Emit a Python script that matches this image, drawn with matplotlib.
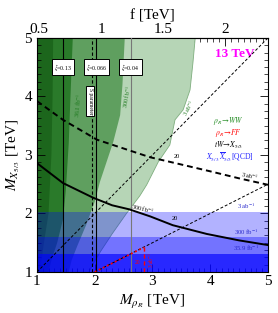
import numpy as np
import matplotlib
matplotlib.use('Agg')
import matplotlib.pyplot as plt
from matplotlib.ticker import MultipleLocator, AutoMinorLocator

plt.rcParams['font.family'] = ['Liberation Serif', 'DejaVu Serif']
plt.rcParams['mathtext.fontset'] = 'stix'

# rho_R -> WW exclusion contours (right edge, M_rho vs M_X)
g3_x = [3.74, 3.70, 3.65, 3.53, 3.39, 3.30, 3.10, 2.90, 2.78, 2.55, 2.30, 2.10, 1.95, 1.90]
g3_y = [5.00, 4.57, 4.11, 3.77, 3.60, 3.17, 2.88, 2.49, 2.30, 2.00, 1.65, 1.35, 1.10, 1.00]
g2_x = [2.52, 2.48, 2.44, 2.32, 2.09, 2.00, 1.85, 1.70, 1.60, 1.55]
g2_y = [5.00, 4.20, 3.68, 3.22, 2.54, 2.20, 1.80, 1.45, 1.20, 1.00]
g1_x = [1.62, 1.58, 1.55, 1.50, 1.45, 1.35, 1.25, 1.20]
g1_y = [5.00, 4.00, 3.20, 2.40, 1.90, 1.50, 1.20, 1.00]
g0_x = [1.28, 1.27, 1.25, 1.20, 1.12, 1.05]
g0_y = [5.00, 4.00, 3.00, 2.00, 1.50, 1.00]

# tW -> X5/3 reach, 300 fb-1 and 3 ab-1
tw300_x = [1.0, 1.45, 1.97, 2.30, 2.60, 2.96, 3.35, 3.94, 4.50, 5.0]
tw300_y = [2.86, 2.52, 2.27, 2.14, 2.07, 1.95, 1.80, 1.65, 1.54, 1.46]
tw3000_x = [1.0, 1.45, 2.04, 2.96, 3.44, 4.00, 4.50, 5.0]
tw3000_y = [3.92, 3.60, 3.26, 2.96, 2.85, 2.72, 2.60, 2.49]

# rho_R -> FF
ff_x = [2.0, 2.85, 2.85]
ff_y = [1.0, 1.42, 1.0]

# QCD pair production limits on M_X
qcd_lumi = ['3 ab$^{-1}$', '300 fb$^{-1}$', '35.9 fb$^{-1}$']
qcd_limit = [2.02, 1.60, 1.31]
qcd_alpha = [0.30, 0.35, 0.65]

# xi = v^2/f^2 lines
xi_vals = ['0.13', '0.066', '0.04']
xi_mrho = [1.45, 2.03, 2.62]
s_param = 1.95


def m2f(m):
    return (np.asarray(m) + 0.04) / 2.15


def f2m(f):
    return 2.15 * np.asarray(f) - 0.04


fig = plt.figure(figsize=(2.78, 3.13), dpi=100)
ax = fig.add_axes([0.133, 0.131, 0.831, 0.748])
ax.set_xlim(1, 5)
ax.set_ylim(1, 5)

greens = ['#b6d5b6', '#5f9f5f', '#2a7a2a', '#1c661c']
for gx, gy, c in zip([g3_x, g2_x, g1_x, g0_x], [g3_y, g2_y, g1_y, g0_y], greens):
    px = [1.0] + gx + [1.0]
    py = [5.0] + gy + [1.0]
    ax.fill(px, py, color=c, lw=0, zorder=1)
ax.plot(g3_x, g3_y, color='#7fae7f', lw=0.6, zorder=1)

for lim, a in zip(qcd_limit, qcd_alpha):
    ax.fill_between([1, 5], 1, lim, color='#0000ff', alpha=a, lw=0, zorder=2)

ax.plot(tw300_x, tw300_y, color='black', lw=1.4, zorder=4)
ax.plot(tw3000_x, tw3000_y, color='black', lw=1.4, ls=(0, (3, 2)), zorder=4)
xx = np.array([1.0, 5.0])
ax.plot(xx, xx, color='black', lw=0.7, ls=(0, (3, 2)), zorder=4)
xx = np.array([2.0, 5.0])
ax.plot(xx, xx / 2, color='black', lw=0.7, ls=(0, (3, 2)), zorder=4)
ax.plot(ff_x[:2], ff_y[:2], color='red', lw=1.3, ls=(0, (1, 1.5)), zorder=5)
ax.plot(ff_x[1:], ff_y[1:], color='red', lw=1.0, ls=(0, (3, 2)), zorder=5)

for m, c in zip(xi_mrho, ['black', 'black', '#777777']):
    ax.axvline(m, color=c, lw=0.8, zorder=3)
ax.axvline(s_param, color='black', lw=0.8, ls=(0, (3, 2)), zorder=3)

box = dict(boxstyle='square,pad=0.4', fc='white', ec='black', lw=0.7)
for m, v in zip(xi_mrho, xi_vals):
    ax.text(m - 0.0, 4.5, r'$\xi$=' + v, fontsize=4.2, ha='center', va='center',
            bbox=box, zorder=6)
ax.text(1.92, 3.92, 'S parameter', fontsize=4.0, rotation=-90, ha='center',
        va='center', bbox=dict(boxstyle='square,pad=0.3', fc='white', ec='black', lw=0.7),
        zorder=6)

gcol = '#1f7a1f'
ax.text(1.72, 3.85, '36.1 fb$^{-1}$', fontsize=4.5, color=gcol, rotation=84,
        ha='center', va='center', zorder=6)
ax.text(2.56, 4.0, '300 fb$^{-1}$', fontsize=4.5, color=gcol, rotation=80,
        ha='center', va='center', zorder=6)
ax.text(3.62, 3.8, '3 ab$^{-1}$', fontsize=4.5, color=gcol, rotation=62,
        ha='center', va='center', zorder=6)

ax.text(4.43, 4.73, '13 TeV', fontsize=9.5, color='#ff00ff', fontweight='bold',
        ha='center', va='center')
ax.text(4.32, 3.58, r'$\rho_R\!\rightarrow\!WW$', fontsize=5.5, color='#1f8a1f',
        ha='center', va='center')
ax.text(4.32, 3.38, r'$\rho_R\!\rightarrow\!FF$', fontsize=5.5, color='red',
        ha='center', va='center')
ax.text(4.32, 3.17, r'$tW\!\rightarrow\!X_{5/3}$', fontsize=5.5, color='black',
        ha='center', va='center')
ax.text(4.34, 2.97, r'$X_{5/3}\,\overline{X}_{5/3}$[QCD]', fontsize=5.5, color='#2222ff',
        ha='center', va='center')

ax.text(2.82, 2.08, '300 fb$^{-1}$', fontsize=4.5, rotation=-14, ha='center',
        va='center', zorder=6)
ax.text(3.38, 1.91, '20', fontsize=4.5, ha='center', va='center', zorder=6)
ax.text(3.42, 2.97, '20', fontsize=4.5, ha='center', va='center', zorder=6)
ax.text(4.68, 2.64, '3 ab$^{-1}$', fontsize=4.5, rotation=-12, ha='center',
        va='center', zorder=6)
ax.text(2.75, 1.17, '20', fontsize=4, color='red', ha='center', va='center', zorder=6)
ax.text(2.98, 1.2, '3 ab$^{-1}$', fontsize=4, color='red', rotation=90,
        ha='center', va='center', zorder=6)
for lab, y in zip(qcd_lumi, [2.12, 1.68, 1.41]):
    ax.text(4.62, y, lab, fontsize=4.8, color='#2a2acc', ha='center', va='center', zorder=6)

ax.xaxis.set_major_locator(MultipleLocator(1))
ax.yaxis.set_major_locator(MultipleLocator(1))
ax.xaxis.set_minor_locator(AutoMinorLocator(10))
ax.yaxis.set_minor_locator(AutoMinorLocator(8))
ax.tick_params(which='both', direction='in', right=True, top=False, labelsize=11)
ax.tick_params(which='major', length=6, width=0.6)
ax.tick_params(which='minor', length=3, width=0.5)
ax.tick_params(axis='x', pad=2)
ax.set_xlabel(r'$M_{\rho_R}$ [TeV]', fontsize=11, labelpad=4)
ax.set_ylabel(r'$M_{X_{5/3}}$ [TeV]', fontsize=11, labelpad=2)

sec = ax.secondary_xaxis('top', functions=(m2f, f2m))
sec.set_xticks([0.5, 1.0, 1.5, 2.0])
sec.set_xticklabels(['0.5', '1', '1.5', '2'])
sec.xaxis.set_minor_locator(MultipleLocator(0.05))
sec.tick_params(which='both', direction='in', labelsize=11, pad=1)
sec.tick_params(which='major', length=6, width=0.6)
sec.tick_params(which='minor', length=3, width=0.5)
sec.set_xlabel('f [TeV]', fontsize=11, labelpad=3)

fig.savefig('out.png', dpi=100)
